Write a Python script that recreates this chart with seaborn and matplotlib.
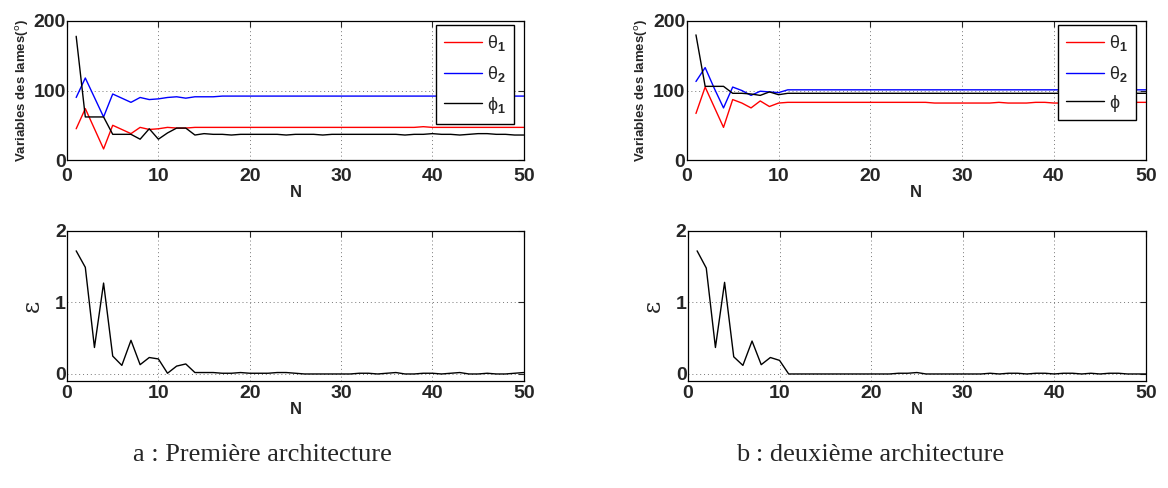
import numpy as np
import pandas as pd
import matplotlib
matplotlib.use("Agg")
import matplotlib.pyplot as plt
import seaborn as sns

# iteration axis
N = list(range(1, 51))

# (a) première architecture
a_theta1 = [45, 74, 45, 16, 50, 44, 38, 47, 44, 45, 47, 46, 46, 47, 47, 47, 47, 47, 47, 47,
            47, 47, 47, 47, 47, 47, 47, 47, 47, 47, 47, 47, 47, 47, 47, 47, 47, 47, 48, 47,
            47, 47, 47, 47, 47, 47, 47, 47, 47, 47]
a_theta2 = [90, 118, 90, 62, 95, 89, 83, 90, 87, 88, 90, 91, 89, 91, 91, 91, 92, 92, 92, 92,
            92, 92, 92, 92, 92, 92, 92, 92, 92, 92, 92, 92, 92, 92, 92, 92, 92, 92, 92, 92,
            92, 92, 92, 92, 92, 92, 92, 92, 92, 92]
a_phi1 = [178, 62, 62, 62, 37, 37, 37, 30, 45, 30, 39, 46, 46, 36, 38, 37, 37, 36, 37, 37,
          37, 37, 37, 36, 37, 37, 37, 36, 37, 37, 37, 37, 37, 37, 37, 37, 36, 37, 37, 38,
          37, 37, 36, 37, 38, 38, 37, 37, 36, 36]
a_eps = [1.72, 1.49, 0.37, 1.27, 0.25, 0.12, 0.47, 0.13, 0.23, 0.21, 0.01, 0.11, 0.14, 0.02, 0.02,
         0.02, 0.01, 0.01, 0.02, 0.01, 0.01, 0.01, 0.02, 0.02, 0.01, 0.00, 0.00, 0.00, 0.00, 0.00,
         0.00, 0.01, 0.01, 0.00, 0.01, 0.02, 0.00, 0.00, 0.01, 0.01, 0.00, 0.01, 0.02, 0.00, 0.00,
         0.01, 0.00, 0.00, 0.01, 0.02]

# (b) deuxième architecture
b_theta1 = [67, 105, 76, 47, 87, 82, 75, 85, 77, 82, 83, 83, 83, 83, 83, 83, 83, 83, 83, 83,
            83, 83, 83, 83, 83, 83, 82, 82, 82, 82, 82, 82, 82, 83, 82, 82, 82, 83, 83, 82,
            82, 82, 82, 82, 82, 82, 82, 82, 83, 83]
b_theta2 = [113, 133, 103, 75, 105, 100, 93, 99, 98, 97, 101, 101, 101, 101, 101, 101, 101, 101, 101, 101,
            101, 101, 101, 101, 101, 101, 101, 101, 101, 101, 101, 101, 101, 101, 101, 101, 101, 101, 101, 101,
            101, 101, 101, 101, 101, 101, 101, 101, 101, 101]
b_phi = [180, 106, 106, 106, 96, 96, 95, 93, 98, 94, 96, 96, 96, 96, 96, 96, 96, 96, 96, 96,
         96, 96, 96, 96, 96, 96, 96, 96, 96, 96, 96, 96, 96, 96, 96, 96, 96, 96, 96, 96,
         96, 96, 96, 96, 96, 96, 96, 96, 96, 96]
b_eps = [1.72, 1.48, 0.37, 1.28, 0.24, 0.12, 0.46, 0.13, 0.23, 0.19, 0.00, 0.00, 0.00, 0.00, 0.00,
         0.00, 0.00, 0.00, 0.00, 0.00, 0.00, 0.00, 0.01, 0.01, 0.02, 0.00, 0.00, 0.00, 0.00, 0.00,
         0.00, 0.00, 0.01, 0.00, 0.01, 0.01, 0.00, 0.01, 0.01, 0.00, 0.01, 0.01, 0.00, 0.01, 0.00,
         0.01, 0.01, 0.00, 0.00, 0.00]

labels_a = ["θ$_\\mathbf{1}$", "θ$_\\mathbf{2}$", "ϕ$_\\mathbf{1}$"]
labels_b = ["θ$_\\mathbf{1}$", "θ$_\\mathbf{2}$", "ϕ"]
colors = ["#ff0000", "#0000ff", "#000000"]

sns.set_style("white")
plt.rcParams['font.family'] = ['Liberation Sans', 'DejaVu Sans']
plt.rcParams['mathtext.fontset'] = 'custom'
plt.rcParams['mathtext.bf'] = 'Liberation Sans:bold'

fig = plt.figure(figsize=(11.68, 4.88), dpi=100)
ax_a1 = fig.add_axes([0.0574, 0.672, 0.391, 0.285])
ax_b1 = fig.add_axes([0.588, 0.672, 0.393, 0.285])
ax_a2 = fig.add_axes([0.0574, 0.219, 0.391, 0.308])
ax_b2 = fig.add_axes([0.589, 0.219, 0.392, 0.308])


def style(ax, ylim, yticks, xpad):
    ax.set_xlim(0, 50)
    ax.set_ylim(*ylim)
    ax.set_xticks([0, 10, 20, 30, 40, 50])
    ax.set_yticks(yticks)
    ax.grid(True, linestyle=(0, (1, 3)), color="#777777", linewidth=0.7)
    ax.tick_params(direction="in", top=True, right=True, length=4, width=0.8,
                   labelsize=14, pad=1)
    ax.tick_params(axis="x", pad=xpad)
    for lab in ax.get_xticklabels() + ax.get_yticklabels():
        lab.set_fontweight("bold")
    for s in ax.spines.values():
        s.set_visible(True)
        s.set_color("black")
        s.set_linewidth(0.9)
    ax.set_xlabel("N", fontsize=12, fontweight="bold", labelpad=0)


for ax, series, labels in [(ax_a1, [a_theta1, a_theta2, a_phi1], labels_a),
                           (ax_b1, [b_theta1, b_theta2, b_phi], labels_b)]:
    for vals, lab, c in zip(series, labels, colors):
        sns.lineplot(x=N, y=vals, ax=ax, color=c, label=lab, linewidth=1.0)
    style(ax, (0, 200), [0, 100, 200], 6)
    ax.set_ylabel("Variables des lames($^{\\mathrm{o}}$)", fontsize=9.5, fontweight="bold", labelpad=2)
    leg = ax.legend(loc="upper right", bbox_to_anchor=(0.978, 0.972), fontsize=13,
                    frameon=True, fancybox=False, edgecolor="black", handlelength=2.1,
                    borderpad=0.45, labelspacing=0.6, handletextpad=0.25, borderaxespad=0)
    leg.get_frame().set_linewidth(1.0)
    leg.get_frame().set_alpha(1)

for ax, vals in [(ax_a2, a_eps), (ax_b2, b_eps)]:
    sns.lineplot(x=N, y=vals, ax=ax, color="black", linewidth=1.0)
    style(ax, (-0.1, 2), [0, 1, 2], 3)
    ax.set_ylabel("ε", fontsize=17, labelpad=8, family=["DejaVu Serif"])

fig.text(0.225, 0.055, "a : Première architecture", ha="center", fontsize=19,
         family=["Liberation Serif", "DejaVu Serif"])
fig.text(0.745, 0.055, "b : deuxième architecture", ha="center", fontsize=19,
         family=["Liberation Serif", "DejaVu Serif"])

fig.savefig("out.png", dpi=100)
